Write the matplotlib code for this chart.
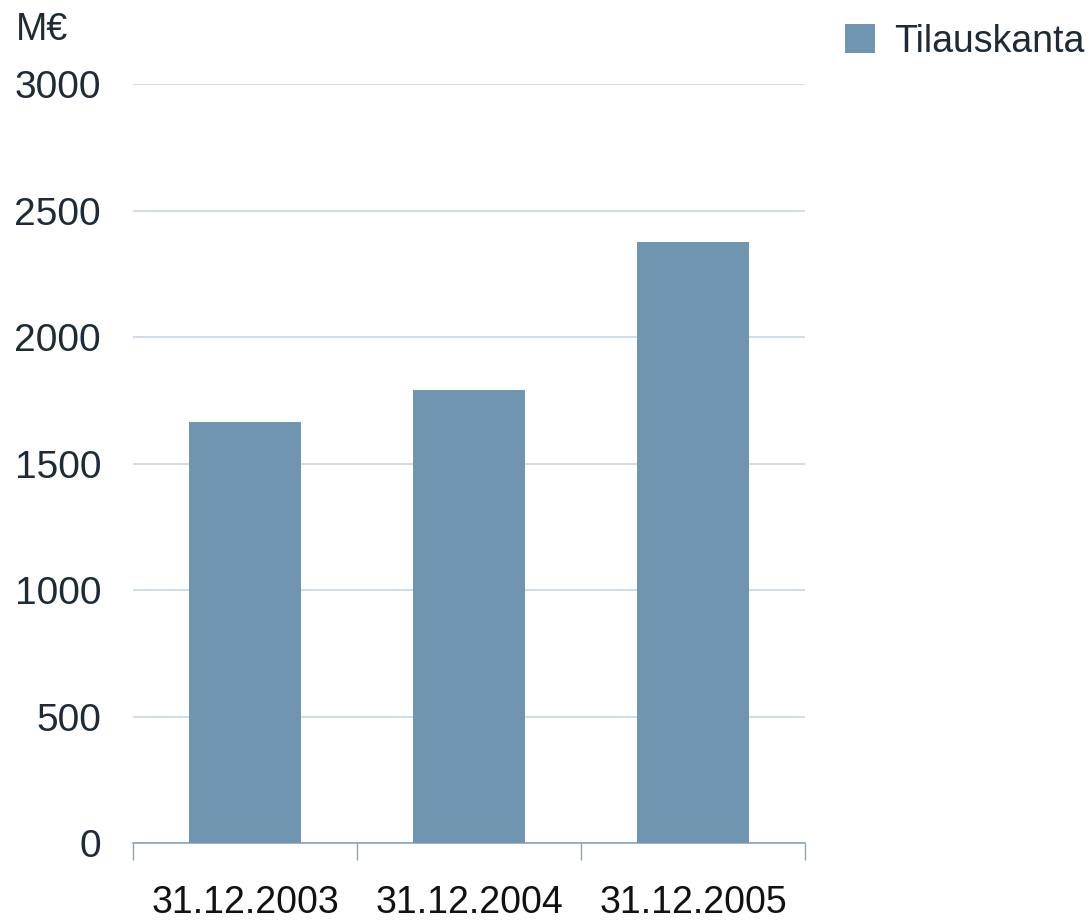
import numpy as np
import matplotlib.pyplot as plt
from matplotlib.patches import Patch

categories = ["31.12.2003", "31.12.2004", "31.12.2005"]
values = [1665, 1793, 2378]
series_name = "Tilauskanta"
yticks = [0, 500, 1000, 1500, 2000, 2500, 3000]

bar_color = "#6f95b0"
text_color = "#1e2b36"
grid_color = "#c9d5e2"
axis_color = "#8ea3b6"

plt.rcParams["font.family"] = ["Liberation Sans", "DejaVu Sans"]

fig = plt.figure(figsize=(10.91, 9.22), dpi=100)
ax = fig.add_axes([0.1219, 0.0857, 0.6160, 0.8228])

x = np.arange(len(categories))
ax.bar(x, values, width=0.5, color=bar_color, zorder=3)

ax.set_xlim(-0.5, len(categories) - 0.5)
ax.set_ylim(0, 3000)
ax.set_yticks(yticks)
ax.set_yticklabels([str(v) for v in yticks], fontsize=28, color=text_color)
ax.tick_params(axis="y", length=0, pad=23)
ax.yaxis.grid(True, color=grid_color, linewidth=1.2, zorder=0)

ax.set_xticks(x)
ax.set_xticklabels(categories, fontsize=27, color="#111111")
ax.tick_params(axis="x", which="major", length=0, pad=30)
ax.set_xticks(np.arange(len(categories) + 1) - 0.5, minor=True)
ax.tick_params(axis="x", which="minor", length=12, width=1, color=axis_color, direction="out")

for s in ["left", "right", "top"]:
    ax.spines[s].set_visible(False)
ax.spines["bottom"].set_color(axis_color)
ax.spines["bottom"].set_linewidth(1.2)

fig.text(0.0147, 0.967, "M€", fontsize=27, color=text_color, va="center", ha="left")

handle = Patch(facecolor=bar_color, edgecolor="none")
fig.legend([handle], [series_name], loc="upper left", bbox_to_anchor=(0.744, 1.011),
           frameon=False, fontsize=27, labelcolor=text_color,
           handlelength=0.8, handleheight=0.8, handletextpad=0.5)

fig.savefig("out.png", dpi=100)
